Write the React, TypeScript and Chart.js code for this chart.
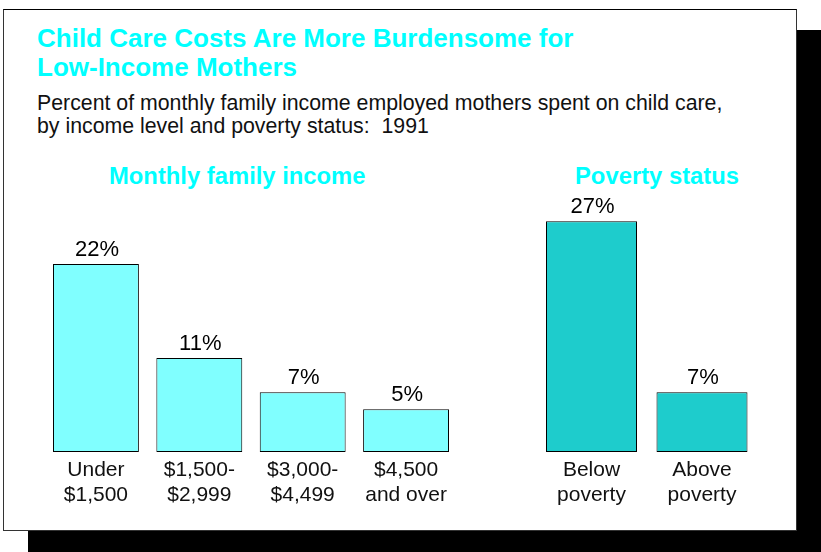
import React, { useEffect, useRef } from 'react';
import { Chart, registerables } from 'chart.js';

Chart.register(...registerables);

const incomeCategories = [
  ['Under', '$1,500'],
  ['$1,500-', '$2,999'],
  ['$3,000-', '$4,499'],
  ['$4,500', 'and over'],
];
const incomeValues = [22, 11, 7, 5];
const povertyCategories = [
  ['Below', 'poverty'],
  ['Above', 'poverty'],
];
const povertyValues = [27, 7];
const yMax = 30;

const FONT = "'Liberation Sans', Arial, Helvetica, sans-serif";

const valueLabelPlugin = {
  id: 'valueLabels',
  afterDatasetsDraw(chart: any) {
    const ctx = chart.ctx;
    const meta = chart.getDatasetMeta(0);
    const data = chart.data.datasets[0].data;
    ctx.save();
    ctx.font = `22px ${FONT}`;
    ctx.fillStyle = '#000';
    ctx.textAlign = 'center';
    ctx.textBaseline = 'alphabetic';
    meta.data.forEach((bar: any, i: number) => {
      ctx.fillText(`${data[i]}%`, bar.x + 1, bar.y - 8);
    });
    ctx.restore();
  },
};

function makeChart(
  canvas: HTMLCanvasElement,
  labels: string[][],
  values: number[],
  color: string,
  barPct: number,
  padLeft: number,
  padRight: number
) {
  return new Chart(canvas, {
    type: 'bar',
    data: {
      labels,
      datasets: [
        {
          data: values,
          backgroundColor: color,
          borderColor: '#000',
          borderWidth: 1,
          borderSkipped: false,
          categoryPercentage: 1,
          barPercentage: barPct,
        },
      ],
    },
    options: {
      animation: false,
      responsive: false,
      maintainAspectRatio: false,
      layout: { padding: { left: padLeft, right: padRight, top: 45.5, bottom: 0 } },
      plugins: {
        legend: { display: false },
        tooltip: { enabled: false },
        title: { display: false },
      },
      scales: {
        y: { display: false, min: 0, max: yMax },
        x: {
          grid: { display: false, drawTicks: false },
          border: { display: false },
          ticks: {
            font: { family: FONT, size: 21, lineHeight: 25 / 21 },
            color: '#111',
            padding: 6,
            maxRotation: 0,
            autoSkip: false,
          },
          afterFit: (scale: any) => {
            scale.height = 78;
          },
        },
      },
    },
    plugins: [valueLabelPlugin],
  });
}

export default function App() {
  const incomeRef = useRef<HTMLCanvasElement>(null);
  const povertyRef = useRef<HTMLCanvasElement>(null);

  useEffect(() => {
    document.body.style.margin = '0';
    const c1 = makeChart(incomeRef.current!, incomeCategories, incomeValues, '#80FFFF', 86 / 103.5, 44.25, 22.25);
    const c2 = makeChart(povertyRef.current!, povertyCategories, povertyValues, '#1ECCCC', 91 / 110.5, 56.25, 39.75);
    return () => {
      c1.destroy();
      c2.destroy();
    };
  }, []);

  const text = (style: React.CSSProperties, content: React.ReactNode) => (
    <div style={{ position: 'absolute', whiteSpace: 'nowrap', fontFamily: FONT, ...style }}>{content}</div>
  );

  return (
    <div style={{ position: 'absolute', left: 0, top: 0, width: 821, height: 552, overflow: 'hidden', background: '#fff' }}>
      <div style={{ position: 'absolute', left: 28, top: 30, width: 793, height: 522, background: '#000' }} />
      <div
        style={{
          position: 'absolute',
          left: 3,
          top: 9,
          width: 794,
          height: 522,
          boxSizing: 'border-box',
          background: '#fff',
          border: '1px solid #333',
          borderTopColor: '#000',
        }}
      />
      {text(
        { left: 37, top: 23.5, fontSize: 26, lineHeight: '29px', fontWeight: 'bold', color: '#00FFFF' },
        <>
          Child Care Costs Are More Burdensome for
          <br />
          Low-Income Mothers
        </>
      )}
      {text(
        { left: 37, top: 92.1, fontSize: 21.3, lineHeight: '23px', color: '#111' },
        <>
          Percent of monthly family income employed mothers spent on child care,
          <br />
          by income level and poverty status:&nbsp; 1991
        </>
      )}
      {text(
        { left: 109, top: 162, fontSize: 23.8, lineHeight: '28px', fontWeight: 'bold', color: '#00FFFF' },
        'Monthly family income'
      )}
      {text(
        { left: 575, top: 162, fontSize: 23.8, lineHeight: '28px', fontWeight: 'bold', color: '#00FFFF' },
        'Poverty status'
      )}
      <canvas ref={incomeRef} width={480} height={380} style={{ position: 'absolute', left: 0, top: 150 }} />
      <canvas ref={povertyRef} width={317} height={380} style={{ position: 'absolute', left: 480, top: 150 }} />
    </div>
  );
}
